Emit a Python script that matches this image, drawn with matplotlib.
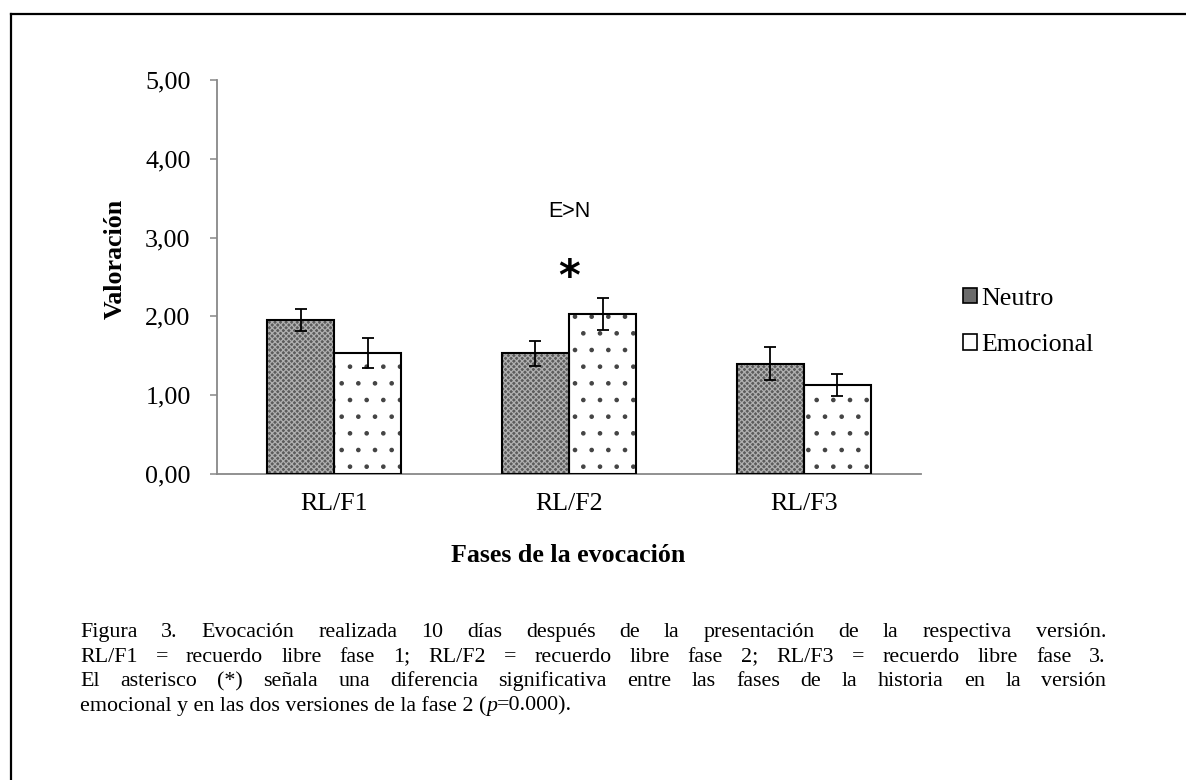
import matplotlib
matplotlib.use("Agg")
import matplotlib.pyplot as plt
from matplotlib.patches import Patch
from matplotlib.lines import Line2D
from matplotlib.transforms import IdentityTransform
from matplotlib.ticker import FuncFormatter

# Mean ratings per recall phase and story version, with error bars
categories = ["RL/F1", "RL/F2", "RL/F3"]
neutro = [1.96, 1.53, 1.40]
neutro_err = [0.14, 0.16, 0.21]
emocional = [1.53, 2.03, 1.13]
emocional_err = [0.19, 0.20, 0.135]
series_names = ["Neutro", "Emocional"]
y_ticks = [0, 1, 2, 3, 4, 5]

caption_lines = [
    "Figura 3.  Evocación realizada 10 días después de la presentación de la respectiva versión.",
    "RL/F1 =  recuerdo libre fase 1; RL/F2 = recuerdo libre fase 2; RL/F3 = recuerdo libre fase 3.",
    "El asterisco (*) señala una diferencia significativa entre las fases de la historia en la versión",
]
caption_last = [("emocional y en las dos versiones de la fase 2 (", "normal"),
                ("p", "italic"), ("=0.000).", "normal")]

W, H = 1186, 780
SERIF = "Liberation Serif"
FS = 18.7

plt.rcParams["hatch.linewidth"] = 0.9
fig = plt.figure(figsize=(W / 100, H / 100), dpi=100)
fig.patch.set_facecolor("white")

ax = fig.add_axes([217 / W, 1 - 474 / H, (921 - 217) / W, (474 - 80) / H])
x = list(range(len(categories)))
bw = 0.286
xn = [i - bw / 2 for i in x]
xe = [i + bw / 2 for i in x]

# Neutro: dark textured fill, drawn first without outline then outlined
ax.bar(xn, neutro, width=bw, color="#5c5c5c", edgecolor="#b0b0b0",
       hatch="xxxxxx", linewidth=0, zorder=2)
ax.bar(xn, neutro, width=bw, facecolor="none", edgecolor="black",
       linewidth=1.5, zorder=3)
# Emocional: white with sparse dots
ax.bar(xe, emocional, width=bw, color="white", edgecolor="#444444",
       hatch=".", linewidth=0, zorder=2)
ax.bar(xe, emocional, width=bw, facecolor="none", edgecolor="black",
       linewidth=1.5, zorder=3)

ax.errorbar(xn, neutro, yerr=neutro_err, fmt="none", ecolor="black",
            elinewidth=1.3, capsize=4.5, capthick=1.3, zorder=4)
ax.errorbar(xe, emocional, yerr=emocional_err, fmt="none", ecolor="black",
            elinewidth=1.3, capsize=4.5, capthick=1.3, zorder=4)

ax.set_xlim(-0.5, 2.5)
ax.set_ylim(0, 5)
ax.set_yticks(y_ticks)
ax.yaxis.set_major_formatter(FuncFormatter(lambda v, p: f"{v:.2f}".replace(".", ",")))
ax.set_xticks(x)
ax.set_xticklabels(categories)
for s in ["top", "right"]:
    ax.spines[s].set_visible(False)
for s in ["left", "bottom"]:
    ax.spines[s].set_color("#888888")
    ax.spines[s].set_linewidth(1.3)
ax.tick_params(axis="y", length=5, width=1.1, color="#888888", pad=14,
               labelsize=FS, labelfontfamily=SERIF)
ax.tick_params(axis="x", length=0, pad=14, labelsize=FS, labelfontfamily=SERIF)

# Significance annotation over the second phase
ax.text(1, 3.33, "E>N", ha="center", va="center", fontsize=15.5,
        family="Liberation Sans")
ax.text(1, 2.34, "*", ha="center", va="baseline", fontsize=30,
        family="DejaVu Sans", fontweight="bold")

# Axis titles
fig.text(115, H - 259, "Valoración", transform=IdentityTransform(),
         rotation=90, ha="center", va="center", fontsize=FS,
         family=SERIF, fontweight="bold")
fig.text(568, H - 555, "Fases de la evocación", transform=IdentityTransform(),
         ha="center", va="center", fontsize=FS, family=SERIF, fontweight="bold")

# Legend
handles = [Patch(facecolor="#6a6a6a", edgecolor="black", linewidth=1.2),
           Patch(facecolor="white", edgecolor="black", linewidth=1.2)]
fig.legend(handles, series_names, loc="center left",
           bbox_to_anchor=(963 / W, 1 - 322 / H), frameon=False,
           prop={"family": SERIF, "size": FS}, handlelength=0.55,
           handleheight=0.55, handletextpad=0.15, labelspacing=0.95,
           borderpad=0, borderaxespad=0)

# Frame around the figure
fig.add_artist(Line2D([11, 11], [0, H - 14], transform=IdentityTransform(),
                      color="black", linewidth=1.6))
fig.add_artist(Line2D([11, W], [H - 14, H - 14], transform=IdentityTransform(),
                      color="black", linewidth=1.6))

# Caption: justified lines followed by a ragged last line
CFS = 15.8
left, right = 80, 1106
baselines = [637, 661.5, 686, 710.5]
fig.canvas.draw()
renderer = fig.canvas.get_renderer()


def text_width(s, style="normal"):
    t = fig.text(0, 0, s, transform=IdentityTransform(), fontsize=CFS,
                 family=SERIF, style=style)
    w = t.get_window_extent(renderer).width
    t.remove()
    return w


for line, base in zip(caption_lines, baselines):
    words = line.split()
    widths = [text_width(w) for w in words]
    gap = (right - left - sum(widths)) / (len(words) - 1)
    xpos = left
    for w, wd in zip(words, widths):
        fig.text(xpos, H - base, w, transform=IdentityTransform(),
                 fontsize=CFS, family=SERIF, va="baseline")
        xpos += wd + gap

xpos = left
for piece, style in caption_last:
    fig.text(xpos, H - baselines[3], piece, transform=IdentityTransform(),
             fontsize=CFS, family=SERIF, style=style, va="baseline")
    xpos += text_width(piece, style)

fig.savefig("out.png", dpi=100)
